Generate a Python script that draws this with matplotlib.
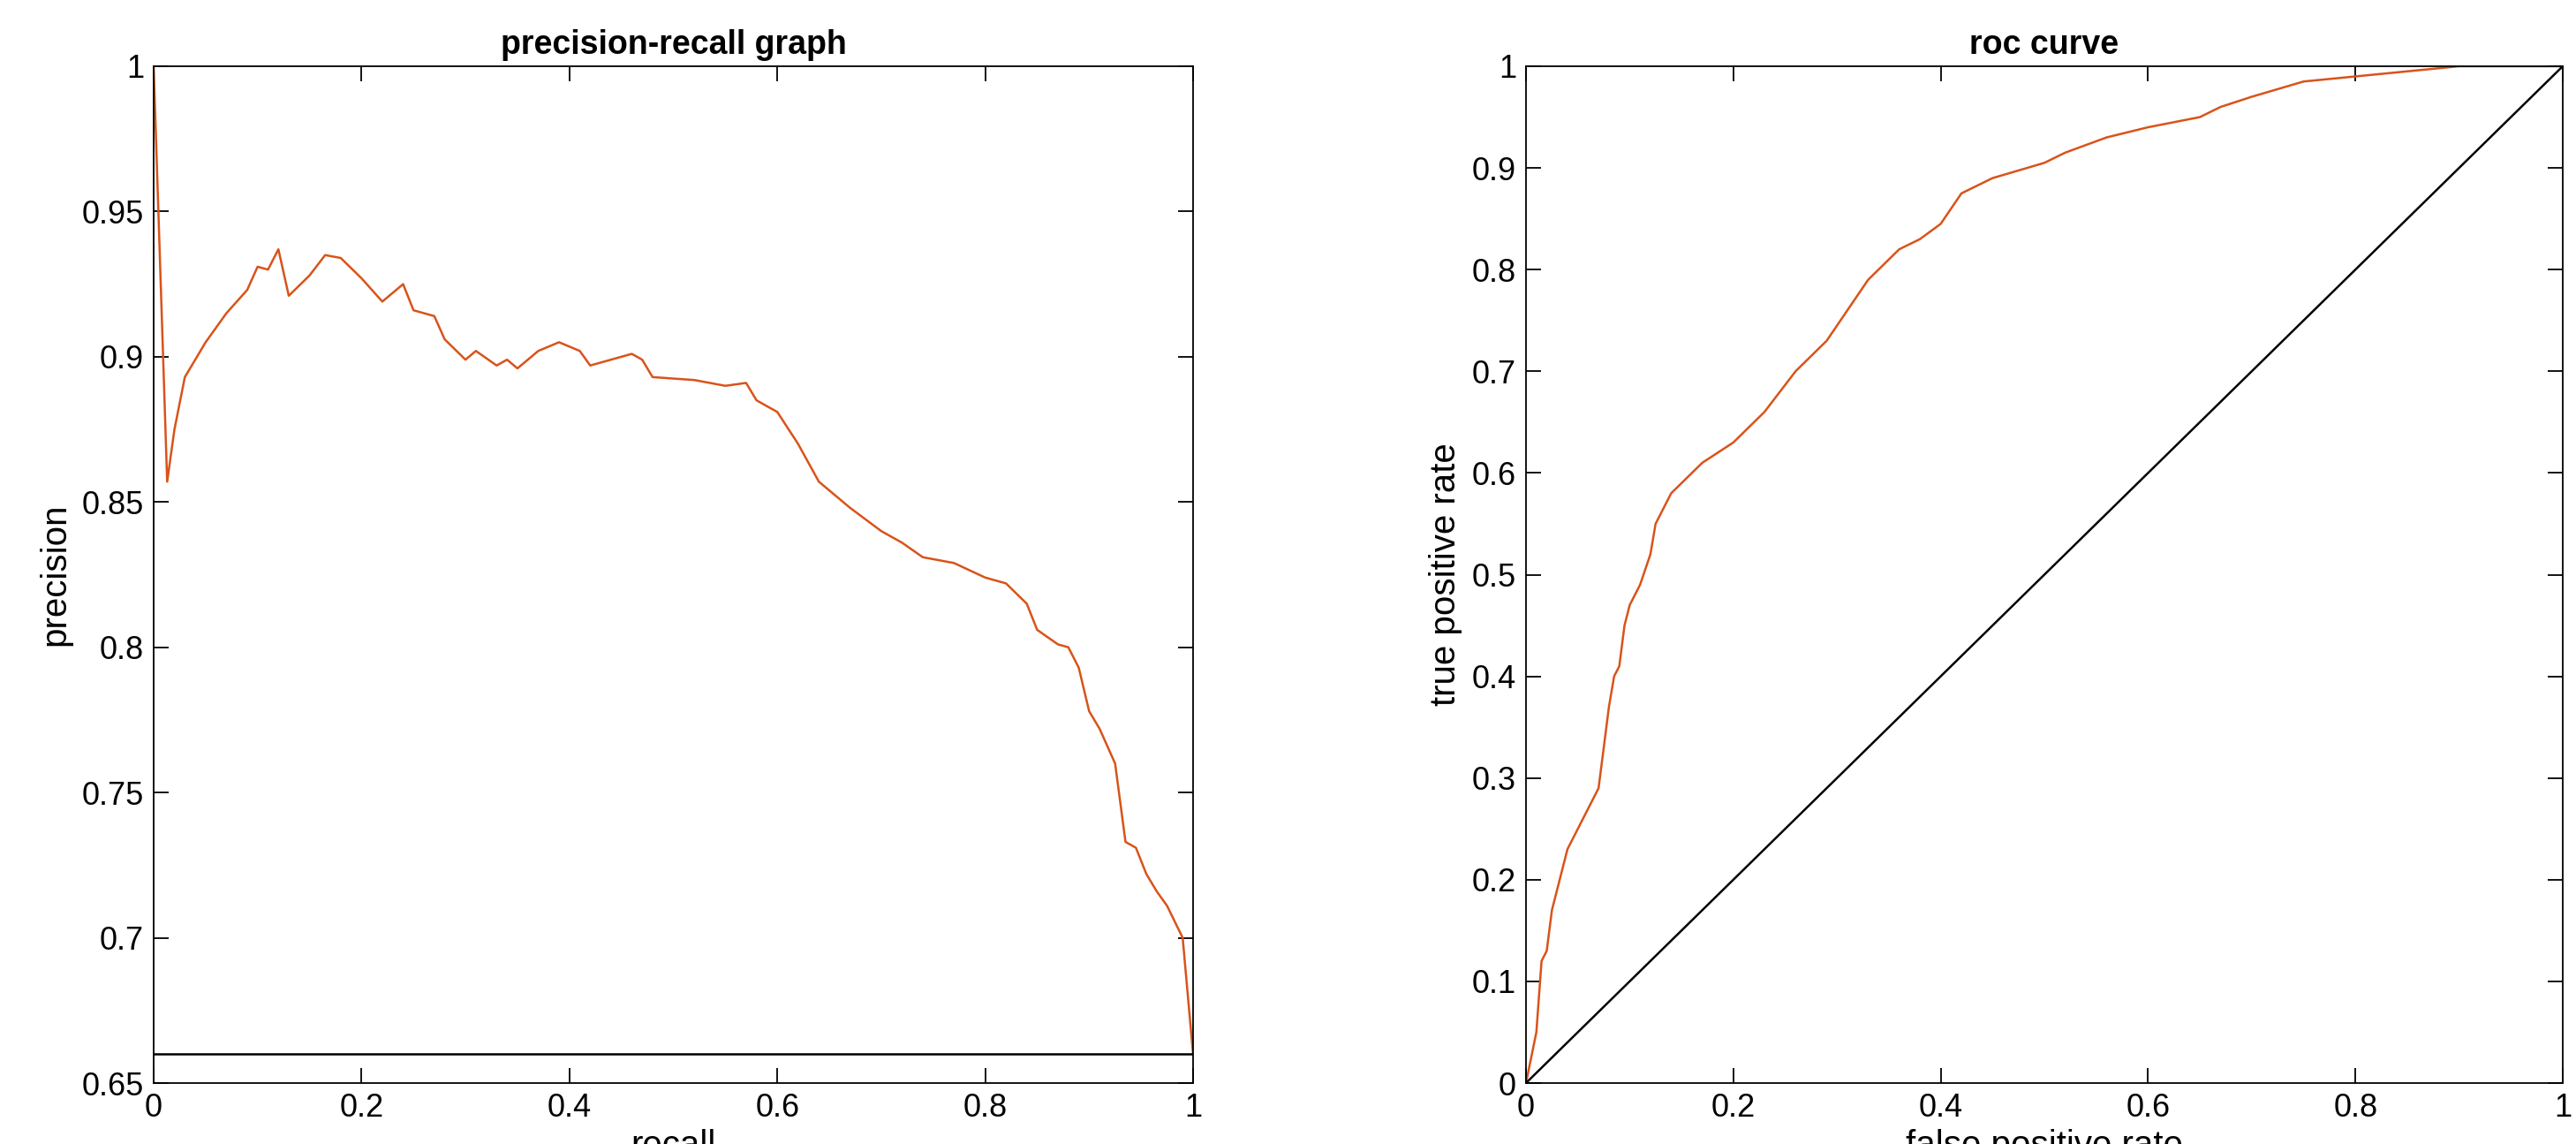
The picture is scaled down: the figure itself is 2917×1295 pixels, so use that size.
import matplotlib
matplotlib.use("Agg")
import matplotlib.pyplot as plt
plt.rcParams['font.family'] = ['Liberation Sans', 'DejaVu Sans']

recall = [0,0.013,0.02,0.03,0.05,0.07,0.09,0.1,0.11,0.12,0.13,0.15,0.165,0.18,0.2,0.22,0.24,0.25,0.27,0.28,0.3,0.31,0.33,0.34,0.35,0.37,0.39,0.41,0.42,0.45,0.46,0.47,0.48,0.52,0.55,0.57,0.58,0.6,0.62,0.64,0.67,0.7,0.72,0.74,0.77,0.8,0.82,0.84,0.85,0.87,0.88,0.89,0.9,0.91,0.925,0.935,0.945,0.955,0.965,0.975,0.99,1.0]
precision = [1,0.857,0.875,0.893,0.905,0.915,0.923,0.931,0.930,0.937,0.921,0.928,0.935,0.934,0.927,0.919,0.925,0.916,0.914,0.906,0.899,0.902,0.897,0.899,0.896,0.902,0.905,0.902,0.897,0.900,0.901,0.899,0.893,0.892,0.890,0.891,0.885,0.881,0.870,0.857,0.848,0.840,0.836,0.831,0.829,0.824,0.822,0.815,0.806,0.801,0.800,0.793,0.778,0.772,0.760,0.733,0.731,0.722,0.716,0.711,0.700,0.66]
baseline = 0.66

fpr = [0,0.01,0.015,0.02,0.025,0.03,0.035,0.04,0.05,0.06,0.07,0.075,0.08,0.085,0.09,0.095,0.1,0.11,0.12,0.125,0.13,0.14,0.15,0.17,0.2,0.23,0.26,0.29,0.31,0.33,0.36,0.38,0.4,0.42,0.45,0.5,0.52,0.56,0.6,0.65,0.67,0.7,0.75,0.8,0.85,0.9,1.0]
tpr = [0,0.05,0.12,0.13,0.17,0.19,0.21,0.23,0.25,0.27,0.29,0.33,0.37,0.40,0.41,0.45,0.47,0.49,0.52,0.55,0.56,0.58,0.59,0.61,0.63,0.66,0.70,0.73,0.76,0.79,0.82,0.83,0.845,0.875,0.89,0.905,0.915,0.93,0.94,0.95,0.96,0.97,0.985,0.99,0.995,1.0,1.0]

orange = '#D95319'
fig = plt.figure(figsize=(29.17, 12.95), dpi=100)
ax1 = fig.add_axes([174/2917, 1-1226/1295, 1177/2917, 1151/1295])
ax2 = fig.add_axes([1728/2917, 1-1226/1295, 1174/2917, 1151/1295])

ax1.plot(recall, precision, color=orange, lw=1.8)
ax1.axhline(baseline, color='black', lw=1.8)
ax1.set_xlim(0, 1); ax1.set_ylim(0.65, 1)
ax1.set_xticks([0,0.2,0.4,0.6,0.8,1]); ax1.set_xticklabels(['0','0.2','0.4','0.6','0.8','1'])
ax1.set_yticks([0.65,0.7,0.75,0.8,0.85,0.9,0.95,1]); ax1.set_yticklabels(['0.65','0.7','0.75','0.8','0.85','0.9','0.95','1'])
ax1.set_xlabel('recall', fontsize=29, labelpad=4); ax1.set_ylabel('precision', fontsize=29, labelpad=8)
ax1.set_title('precision-recall graph', fontsize=27, fontweight='bold', pad=10)

ax2.plot(fpr, tpr, color=orange, lw=1.8)
ax2.plot([0, 1], [0, 1], color='black', lw=1.8)
ax2.set_xlim(0, 1); ax2.set_ylim(0, 1)
ax2.set_xticks([0,0.2,0.4,0.6,0.8,1]); ax2.set_xticklabels(['0','0.2','0.4','0.6','0.8','1'])
ax2.set_yticks([i/10 for i in range(11)]); ax2.set_yticklabels(['0']+[f'0.{i}' for i in range(1,10)]+['1'])
ax2.set_xlabel('false positive rate', fontsize=29, labelpad=4); ax2.set_ylabel('true positive rate', fontsize=29, labelpad=8)
ax2.set_title('roc curve', fontsize=27, fontweight='bold', pad=10)

for ax in (ax1, ax2):
    ax.tick_params(direction='in', top=True, right=True, labelsize=26, length=12, width=1.3, pad=8)
    for s in ax.spines.values():
        s.set_linewidth(1.3)

fig.savefig('out.png', dpi=100)
